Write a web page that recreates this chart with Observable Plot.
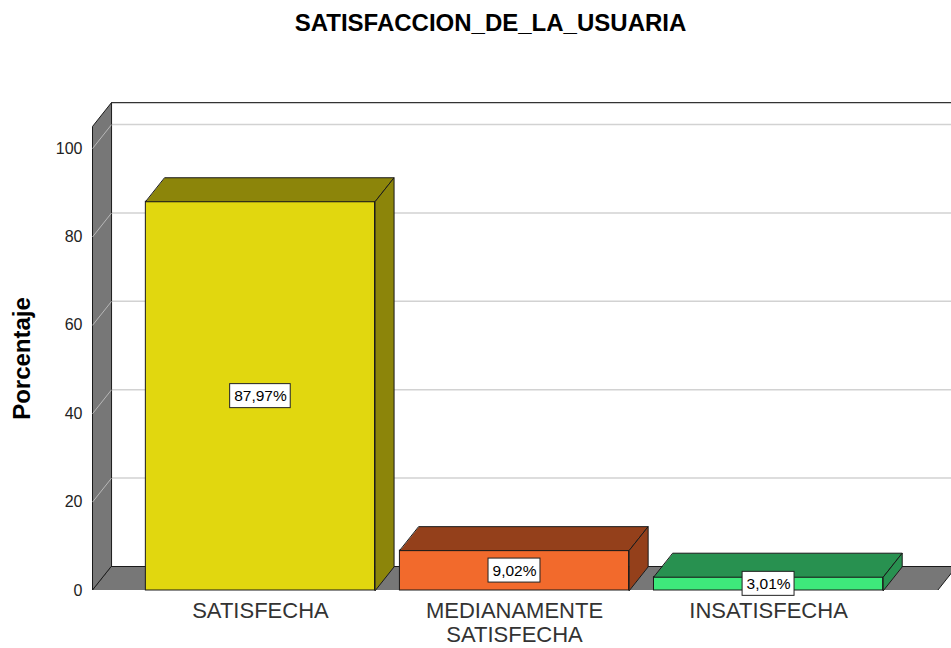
<!DOCTYPE html>
<html>
<head>
<meta charset="utf-8">
<script src="https://cdn.jsdelivr.net/npm/d3@7"></script>
<script src="https://cdn.jsdelivr.net/npm/@observablehq/plot@0.6"></script>
<style>
  html, body { margin: 0; padding: 0; background: #fff; }
  #title { width: 951px; height: 45px; box-sizing: border-box; padding-left: 30px; text-align: center;
           font: bold 24px "Liberation Sans", Arial, sans-serif; line-height: 45px; color: #000; }
</style>
</head>
<body>
<div id="title">SATISFACCION_DE_LA_USUARIA</div>
<div id="chart"></div>
<script>
// ---- data ----
const categories = ["SATISFECHA", "MEDIANAMENTE\nSATISFECHA", "INSATISFECHA"];
const porcentajes = [87.97, 9.02, 3.01];
const etiquetas = ["87,97%", "9,02%", "3,01%"];
const yTicks = [0, 20, 40, 60, 80, 100];
const yLabel = "Porcentaje";

// ---- styles ----
const frontColors = ["#e1d70f", "#f26a2c", "#3ee97b"];
const darkColors  = ["#8c850a", "#94401b", "#289150"];
const wallColor = "#777777";

// ---- geometry (in scale units) ----
const W = 951, H = 603;
const mL = 92, mR = 0, mT = 57, mB = 58;
const xDomain = [-0.661, 2.72];
const yTop = 105;          // top of the plotting box (front)
const DX = 0.075;          // depth offset in x units
const DY = 5.43;           // depth offset in y units
const HW = 0.451;          // half bar width
const x0 = xDomain[0];
const xFloorR = 2.665;

const pxPerX = (W - mL - mR) / (xDomain[1] - xDomain[0]);
const pxPerY = (H - mT - mB) / (yTop + DY);

// polygons
const polys = [];
let fid = 0;
function poly(pts, fill) {
  const id = fid++;
  for (const [x, y] of pts) polys.push({face: id, x, y, fill});
}
// wall and floor
const wallPolys = [];
function wpoly(pts, fill) {
  const id = "w" + wallPolys.length;
  for (const [x, y] of pts) wallPolys.push({face: id, x, y, fill});
}
wpoly([[x0, 0], [x0, yTop], [x0 + DX, yTop + DY], [x0 + DX, DY]], wallColor);
wpoly([[x0, 0], [xFloorR, 0], [xFloorR + DX, DY], [x0 + DX, DY]], wallColor);

const bars = porcentajes.map((v, i) => ({i, v, label: etiquetas[i], cat: categories[i]}));
bars.forEach(({i, v}) => {
  const xl = i - HW, xr = i + HW;
  poly([[xl, v], [xr, v], [xr + DX, v + DY], [xl + DX, v + DY]], darkColors[i]);   // top
  poly([[xr, 0], [xr, v], [xr + DX, v + DY], [xr + DX, DY]], darkColors[i]);        // side
});

// grid lines
const backGrid = yTicks.filter(t => t > 0).map(t => ({t}));
const wallGrid = yTicks.filter(t => t > 0).map(t => ({t}));

// label boxes measured with canvas
const ctx = document.createElement("canvas").getContext("2d");
const labelFont = 15.5;
ctx.font = `${labelFont}px "Liberation Sans", Arial, sans-serif`;
const boxes = bars.map(b => {
  const w = ctx.measureText(b.label).width + 8;
  return {i: b.i, yc: b.v / 2, hx: w / 2 / pxPerX, hy: 12 / pxPerY};
});

const chart = Plot.plot({
  width: W, height: H,
  marginLeft: mL, marginRight: mR, marginTop: mT, marginBottom: mB,
  x: {domain: xDomain, axis: null},
  y: {domain: [0, yTop + DY], axis: null},
  color: {type: "identity"},
  style: {fontFamily: '"Liberation Sans", Arial, sans-serif', background: "#fff", color: "#222"},
  marks: [
    // back gridlines
    Plot.ruleY(backGrid, {y: d => d.t + DY, x1: x0 + DX, x2: xDomain[1] + DX, stroke: "#d2d2d2", strokeWidth: 1.5, clip: true}),
    // wall + floor
    Plot.line(wallPolys, {x: "x", y: "y", z: "face", fill: "fill", stroke: "#1a1a1a", strokeWidth: 1, curve: "linear-closed", clip: true}),
    // wall grid diagonals
    Plot.link(wallGrid, {x1: x0, y1: d => d.t, x2: x0 + DX, y2: d => d.t + DY, stroke: "#b8b8b8", strokeWidth: 1}),
    // top frame line
    Plot.ruleY([yTop + DY], {x1: x0 + DX, x2: xDomain[1] + DX, stroke: "#333", strokeWidth: 1.5, clip: true}),
    // bars: front faces
    Plot.rect(bars, {x1: d => d.i - HW, x2: d => d.i + HW, y1: 0, y2: "v", fill: d => frontColors[d.i], stroke: "#1a1a1a", strokeWidth: 1}),
    // bars: top and side faces
    Plot.line(polys, {x: "x", y: "y", z: "face", fill: "fill", stroke: "#1a1a1a", strokeWidth: 1, curve: "linear-closed"}),
    // label boxes
    Plot.rect(boxes, {x1: d => d.i - d.hx, x2: d => d.i + d.hx, y1: d => d.yc - d.hy, y2: d => d.yc + d.hy, fill: "#fff", stroke: "#222", strokeWidth: 1}),
    Plot.text(bars, {x: "i", y: d => d.v / 2, text: "label", fontSize: labelFont, fill: "#000"}),
    // y tick labels
    Plot.text(yTicks, {x: x0, y: d => d, text: d => String(d), textAnchor: "end", dx: -10, fontSize: 16, fill: "#222"}),
    // y axis title
    Plot.text([yLabel], {x: x0, y: 52.5, text: d => d, rotate: -90, dx: -70, fontSize: 24, fontWeight: "bold", fill: "#000"}),
    // x category labels
    Plot.text(bars, {x: "i", y: 0, text: "cat", lineAnchor: "top", dy: 10, fontSize: 22, lineHeight: 1.1, fill: "#333"})
  ]
});
document.getElementById("chart").appendChild(chart);
</script>
</body>
</html>
